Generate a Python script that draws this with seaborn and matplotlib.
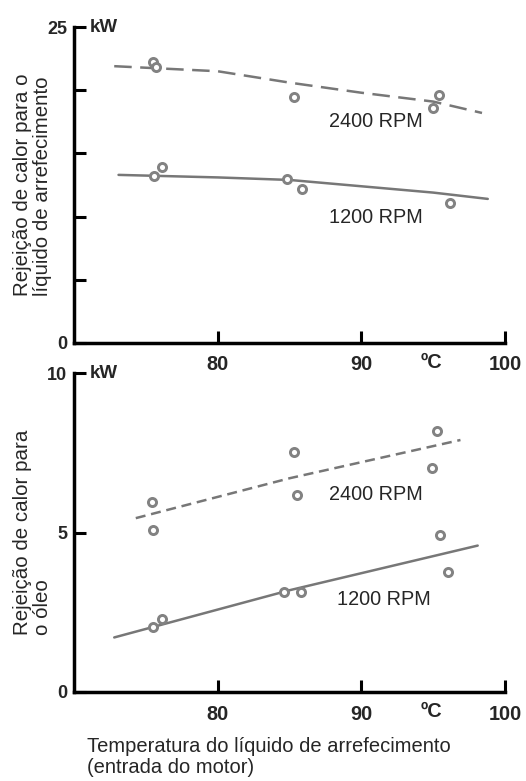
import matplotlib
matplotlib.use("Agg")
import matplotlib.pyplot as plt
import seaborn as sns
import pandas as pd

# ---- data ----
top_2400_x = [75.5, 75.7, 85.3, 95.4, 95.0]
top_2400_y = [22.2, 21.8, 19.5, 19.6, 18.6]
top_1200_x = [76.1, 75.6, 84.8, 85.9, 96.2]
top_1200_y = [13.9, 13.2, 12.95, 12.15, 11.1]
top_2400_fit_x = [72.8, 80, 85, 90, 95, 98.4]
top_2400_fit_y = [21.9, 21.5, 20.6, 19.8, 19.1, 18.2]
top_1200_fit_x = [73.1, 80, 85, 90, 95, 98.8]
top_1200_fit_y = [13.3, 13.1, 12.9, 12.4, 11.9, 11.4]

bot_2400_x = [75.4, 75.5, 85.3, 85.5, 95.3, 94.9]
bot_2400_y = [5.97, 5.08, 7.51, 6.18, 8.17, 7.02]
bot_1200_x = [76.1, 75.5, 84.6, 85.8, 95.5, 96.0]
bot_1200_y = [2.30, 2.04, 3.14, 3.12, 4.92, 3.77]
bot_2400_fit_x = [74.3, 85, 96.9]
bot_2400_fit_y = [5.45, 6.7, 7.9]
bot_1200_fit_x = [72.8, 85, 98.1]
bot_1200_fit_y = [1.71, 3.19, 4.59]

x_ticks = [80, 90, 100]
x_tick_labels = ["80", "90", "100"]
top_y_ticks = [0, 5, 10, 15, 20, 25]
top_y_tick_labels = ["0", "", "", "", "", "25"]
bot_y_ticks = [0, 5, 10]
bot_y_tick_labels = ["0", "5", "10"]

top_ylabel = "Rejeição de calor para o\nlíquido de arrefecimento"
bot_ylabel = "Rejeição de calor para\no óleo"
xlabel = "Temperatura do líquido de arrefecimento\n(entrada do motor)"

# ---- style ----
sns.set_style("ticks")
plt.rcParams["font.family"] = ["Liberation Sans", "DejaVu Sans"]

W, H = 526, 781
fig = plt.figure(figsize=(W / 100, H / 100), dpi=100)

def frac_axes(left_px, right_px, top_px, bottom_px):
    return fig.add_axes([left_px / W, 1 - bottom_px / H,
                         (right_px - left_px) / W, (bottom_px - top_px) / H])

ax1 = frac_axes(74, 505, 27, 343)
ax2 = frac_axes(74, 505, 373, 692)

line_c = "#777777"
mark_c = "#828282"

def draw(ax, pts, fits, dashes):
    for (xs, ys) in pts:
        sns.scatterplot(x=xs, y=ys, ax=ax, marker="o", s=34,
                        facecolor="white", edgecolor=mark_c, linewidth=2.1,
                        zorder=3, legend=False)
    for (xs, ys), ls in zip(fits, dashes):
        df = pd.DataFrame({"x": xs, "y": ys})
        sns.lineplot(data=df, x="x", y="y", ax=ax, color=line_c, lw=1.8,
                     sort=False, estimator=None, linestyle=ls, zorder=2)

draw(ax1,
     [(top_2400_x, top_2400_y), (top_1200_x, top_1200_y)],
     [(top_2400_fit_x, top_2400_fit_y), (top_1200_fit_x, top_1200_fit_y)],
     [(0, (7.0, 3.4)), "-"])
draw(ax2,
     [(bot_2400_x, bot_2400_y), (bot_1200_x, bot_1200_y)],
     [(bot_2400_fit_x, bot_2400_fit_y), (bot_1200_fit_x, bot_1200_fit_y)],
     [(0, (4.0, 2.3)), "-"])

rpm_fs = 14.3
ax1.text(91.0, 17.5, "2400 RPM", ha="center", va="center", fontsize=rpm_fs)
ax1.text(91.0, 9.9, "1200 RPM", ha="center", va="center", fontsize=rpm_fs)
ax2.text(91.0, 6.18, "2400 RPM", ha="center", va="center", fontsize=rpm_fs)
ax2.text(91.6, 2.9, "1200 RPM", ha="center", va="center", fontsize=rpm_fs)

for ax, yl, yt, ytl, ylab in [
    (ax1, 25, top_y_ticks, top_y_tick_labels, top_ylabel),
    (ax2, 10, bot_y_ticks, bot_y_tick_labels, bot_ylabel),
]:
    ax.set_xlim(70, 100)
    ax.set_ylim(0, yl)
    ax.set_xticks(x_ticks)
    ax.set_xticklabels(x_tick_labels, fontsize=14.3, fontweight="bold")
    ax.set_yticks(yt)
    ax.set_yticklabels(ytl, fontsize=13, fontweight="bold")
    ax.tick_params(axis="both", direction="in", length=8.5, width=2.2,
                   color="black")
    ax.tick_params(axis="x", pad=9)
    ax.tick_params(axis="y", pad=5)
    for s in ("top", "right"):
        ax.spines[s].set_visible(False)
    for s in ("left", "bottom"):
        ax.spines[s].set_linewidth(2.5)
        ax.spines[s].set_color("black")
    ax.set_xlabel("")
    ax.set_ylabel(ylab, fontsize=14.8, multialignment="left", linespacing=1.1)
    ax.yaxis.set_label_coords(-0.05, 0.5)
    ax.text(0.037, 1.0, "kW", transform=ax.transAxes, ha="left", va="center",
            fontsize=13.5, fontweight="bold")
    ax.text(94.9, -0.062, "ºC",
            transform=ax.get_xaxis_transform(), ha="center", va="center",
            fontsize=14.3, fontweight="bold")
    ax.set_facecolor("white")

fig.text(87 / W, 1 - 737 / H, xlabel, ha="left", va="top", fontsize=14.5,
         multialignment="left", linespacing=1.15)

fig.savefig("out.png", dpi=100, facecolor="white")
